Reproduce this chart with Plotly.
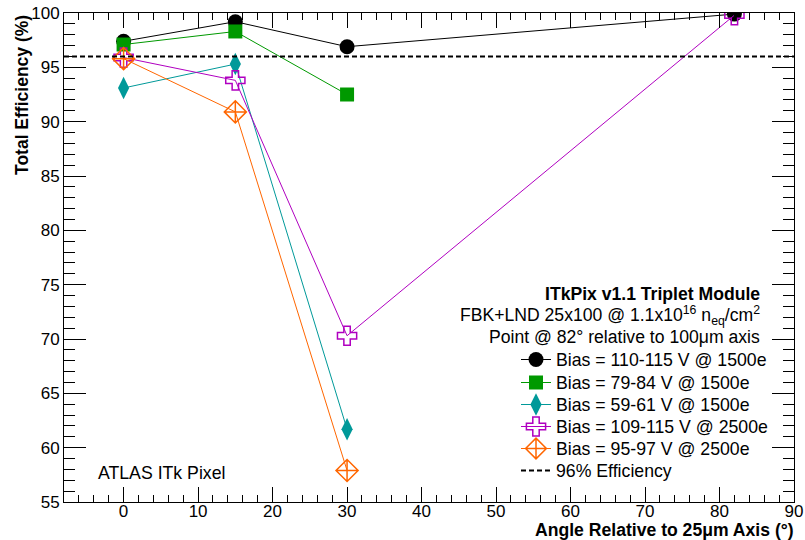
import plotly.graph_objects as go

angles_black = [0, 15, 30, 82]
eff_black = [97.4, 99.2, 96.9, 99.9]
angles_green = [0, 15, 30]
eff_green = [97.1, 98.3, 92.5]
angles_cyan = [0, 15, 30]
eff_cyan = [93.1, 95.3, 61.7]
angles_purple = [0, 15, 30, 82]
eff_purple = [95.9, 93.8, 70.3, 99.8]
angles_orange = [0, 15, 30]
eff_orange = [95.8, 90.9, 57.9]
threshold = 96
x_range = [-8, 90]
y_range = [55, 100]

FONT = "Liberation Sans, Arial, Helvetica, sans-serif"
L, T, R, B = 64, 13, 794, 502

def px(xp):
    return (xp - L) / (R - L)

def py(yp):
    return 1 - (yp - T) / (B - T)

fig = go.Figure()

series = [
    ("Bias = 110-115 V @ 1500e", angles_black, eff_black, "black", "circle", 15),
    ("Bias = 79-84 V @ 1500e", angles_green, eff_green, "#009900", "square", 14),
    ("Bias = 59-61 V @ 1500e", angles_cyan, eff_cyan, "#009999", "diamond-tall", 16),
    ("Bias = 109-115 V @ 2500e", angles_purple, eff_purple, "#b000c0", "cross-open", 16),
    ("Bias = 95-97 V @ 2500e", angles_orange, eff_orange, "#ff6600", "diamond-cross-open", 17),
]

legend_rows = [360, 383, 405, 427, 449, 471]
legend_names = ["legend", "legend2", "legend3", "legend4", "legend5", "legend6"]

for i, (name, xs, ys, col, sym, sz) in enumerate(series):
    fig.add_trace(go.Scatter(
        x=xs, y=ys, mode="lines+markers", name=name, legend=legend_names[i],
        line=dict(color=col, width=1),
        marker=dict(symbol=sym, size=sz, color=col, line=dict(color=col, width=1.5 if "open" in sym else 0)),
    ))

fig.add_trace(go.Scatter(
    x=x_range, y=[threshold, threshold], mode="lines", name="96% Efficiency", legend=legend_names[5],
    line=dict(color="black", width=2, dash="5px,3px"),
))

axis_common = dict(
    showgrid=False, zeroline=False, showline=True, linecolor="black", linewidth=1,
    mirror="allticks", ticks="inside", tickcolor="black", tickwidth=1,
    tickfont=dict(family=FONT, size=17, color="black"),
)

fig.update_xaxes(range=x_range, dtick=10, tick0=0, ticklen=15, ticklabelstandoff=-6,
                 minor=dict(dtick=2, ticklen=7, ticks="inside", tickcolor="black", tickwidth=1),
                 **axis_common)
fig.update_yaxes(range=y_range, dtick=5, tick0=55, ticklen=22,
                 minor=dict(dtick=1, ticklen=11, ticks="inside", tickcolor="black", tickwidth=1),
                 **axis_common)

fig.add_annotation(x=px(796), y=py(530), xref="paper", yref="paper", xanchor="right", yanchor="middle",
                   text="<b>Angle Relative to 25μm Axis (°)</b>", showarrow=False,
                   font=dict(family=FONT, size=17.6, color="black"))
fig.add_annotation(x=px(22), y=py(13), xref="paper", yref="paper", xanchor="center", yanchor="top",
                   text="<b>Total Efficiency (%)</b>", textangle=-90, showarrow=False,
                   font=dict(family=FONT, size=17.5, color="black"))

header = [
    ("<b>ITkPix v1.1 Triplet Module</b>", 294),
    ("FBK+LND 25x100 @ 1.1x10<sup>16</sup> n<sub>eq</sub>/cm<sup>2</sup>", 315),
    ("Point @ 82° relative to 100μm axis", 337),
]
for txt, yp in header:
    fig.add_annotation(x=px(762), y=py(yp), xref="paper", yref="paper",
                       xanchor="right", yanchor="middle", text=txt, showarrow=False,
                       font=dict(family=FONT, size=17.6, color="black"))

fig.add_annotation(x=px(96), y=py(473), xref="paper", yref="paper",
                   xanchor="left", yanchor="middle", text="ATLAS ITk Pixel", showarrow=False,
                   font=dict(family=FONT, size=17.7, color="black"))

legend_layout = {}
for ln, yr in zip(legend_names, legend_rows):
    legend_layout[ln] = dict(x=px(516), y=py(yr), xanchor="left", yanchor="middle",
                             bgcolor="rgba(0,0,0,0)", font=dict(family=FONT, size=17.7, color="black"),
                             itemwidth=30)

fig.update_layout(
    template="none",
    width=805, height=540,
    margin=dict(l=L, r=805 - R, t=T, b=540 - B, autoexpand=False),
    plot_bgcolor="white", paper_bgcolor="white",
    showlegend=True,
    **legend_layout,
)

fig.write_html("out.html", config={"displayModeBar": False},
               post_script="document.body.style.margin='0';document.body.style.overflow='hidden';")
